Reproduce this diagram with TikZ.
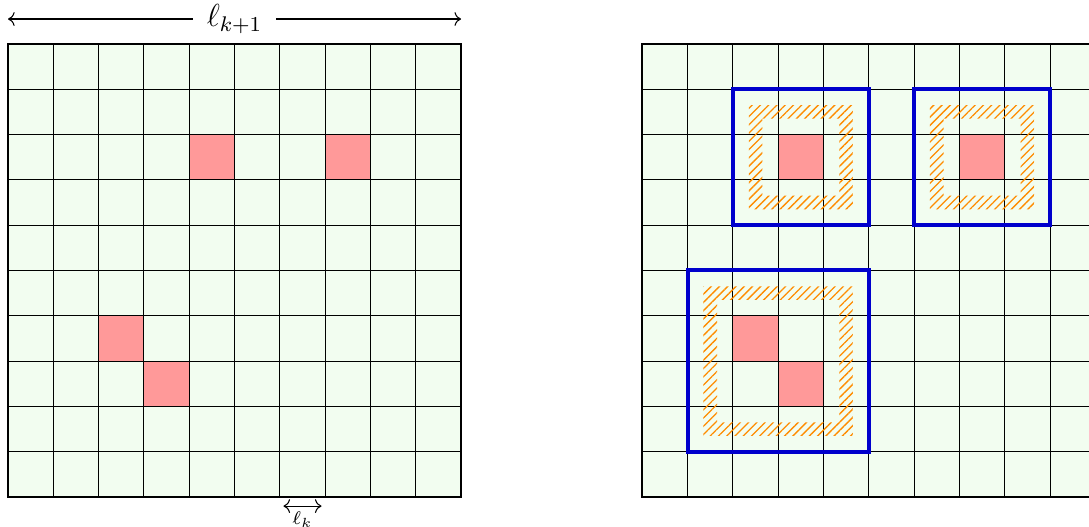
\documentclass[tikz,border=0pt]{standalone}
\usepackage{amsmath,amssymb}
\usepackage{xcolor}
\usepackage{tikz}
\usetikzlibrary{arrows.meta,patterns.meta}
\definecolor{cellgreen}{RGB}{242,253,240}
\definecolor{hitred}{RGB}{255,153,153}
\definecolor{zoneblue}{RGB}{0,0,204}
\definecolor{hatchorange}{RGB}{255,140,0}

\begin{document}
\begin{tikzpicture}[x=0.6cm, y=0.6cm,
    hit/.style={fill=hitred},
    zone/.style={draw=zoneblue, line width=1.5pt},
    ring/.style={pattern={Lines[angle=45, distance=2.2pt, line width=0.5pt]},
                 pattern color=hatchorange, even odd rule}]
\useasboundingbox (-0.177,-0.662) rectangle (23.86,10.97);

% coarse level, left
\fill[cellgreen] (0,0) rectangle (10,10);
\foreach \x/\y in {4/7, 7/7, 2/3, 3/2}
  \fill[hit] (\x,\y) rectangle ++(1,1);
\draw[step=0.6cm] (0,0) grid (10,10);
\draw[thick] (0,0) rectangle (10,10);

% coarse level, right
\fill[cellgreen] (14,0) rectangle (24,10);
\foreach \x/\y in {17/7, 21/7, 16/3, 17/2}
  \fill[hit] (\x,\y) rectangle ++(1,1);
\draw[step=0.6cm] (14,0) grid (24,10);
\draw[thick] (14,0) rectangle (24,10);

% refined zones
\foreach \xa/\ya/\xb/\yb in {16/6/19/9, 20/6/23/9, 15/1/19/5} {
  \fill[ring] (\xa+0.35,\ya+0.35) rectangle (\xb-0.35,\yb-0.35)
              (\xa+0.65,\ya+0.65) rectangle (\xb-0.65,\yb-0.65);
  \draw[zone] (\xa,\ya) rectangle (\xb,\yb);
}

% lengths
\coordinate (topL) at (0,10.55);
\coordinate (topR) at (10,10.55);
\node[inner sep=5pt, font=\fontsize{11.5}{13}\selectfont] (lnext) at (5,10.55) {$\ell_{k+1}$};
\draw[<-] (topL) -- (lnext);
\draw[->] (lnext) -- (topR);

\coordinate (lkL) at (6.08,-0.2);
\coordinate (lkR) at (6.92,-0.2);
\draw[<->] (lkL) -- (lkR) node[midway, below, inner sep=2pt, font=\scriptsize] {$\ell_k$};
\end{tikzpicture}
\end{document}
